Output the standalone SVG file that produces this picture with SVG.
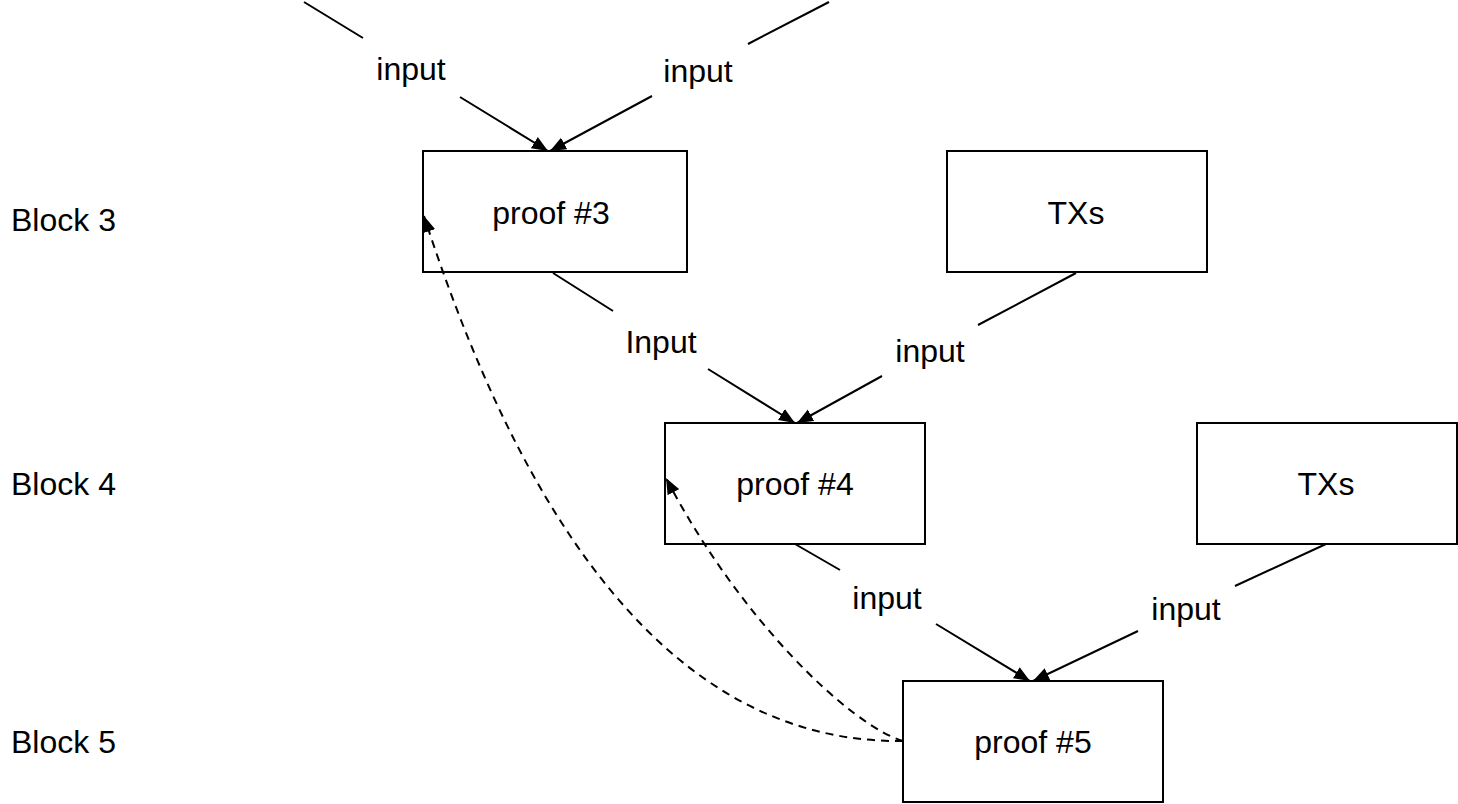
<svg xmlns="http://www.w3.org/2000/svg" width="1458" height="804" viewBox="0 0 1458 804">
<style>
  .box { fill: #ffffff; stroke: #000000; stroke-width: 2; }
  .t { font-family: "Liberation Sans", Arial, sans-serif; font-size: 32px; fill: #000000; }
  .c { text-anchor: middle; }
  .edge { fill: none; stroke: #000000; stroke-width: 2; }
  .dash { stroke-dasharray: 8 6; }
</style>
<defs>
  <marker id="arrow" markerUnits="userSpaceOnUse" markerWidth="17" markerHeight="14" refX="16" refY="7" orient="auto" viewBox="0 0 17 14">
    <path d="M0,0.5 L16,7 L0,13.5 z" fill="#000000" stroke="none"/>
  </marker>
</defs>
<rect width="1458" height="804" fill="#ffffff"/>

<g id="row-labels">
  <text class="t" x="11" y="231">Block 3</text>
  <text class="t" x="11" y="495">Block 4</text>
  <text class="t" x="11" y="753">Block 5</text>
</g>

<g id="proof3">
  <rect class="box" x="423" y="151" width="264" height="121"/>
  <text class="t c" x="551" y="224">proof #3</text>
</g>
<g id="txs3">
  <rect class="box" x="947" y="151" width="260" height="121"/>
  <text class="t c" x="1076" y="224">TXs</text>
</g>
<g id="proof4">
  <rect class="box" x="665" y="423" width="260" height="121"/>
  <text class="t c" x="795" y="495">proof #4</text>
</g>
<g id="txs4">
  <rect class="box" x="1197" y="423" width="260" height="121"/>
  <text class="t c" x="1326" y="495">TXs</text>
</g>
<g id="proof5">
  <rect class="box" x="903" y="681" width="260" height="121"/>
  <text class="t c" x="1033" y="753">proof #5</text>
</g>

<g id="connectors">
  <path class="edge" d="M304,2 L363,38 M460,97 L548,151" marker-end="url(#arrow)"/>
  <path class="edge" d="M829,2 L748,44 M652,96 L550,151" marker-end="url(#arrow)"/>
  <path class="edge" d="M553,273 L613,311 M708,369 L795,423" marker-end="url(#arrow)"/>
  <path class="edge" d="M1076,273 L978,325 M882,376 L797,423" marker-end="url(#arrow)"/>
  <path class="edge" d="M795,544 L840,570 M936,624 L1030,681" marker-end="url(#arrow)"/>
  <path class="edge" d="M1326,544 L1235,586 M1138,631 L1033,681" marker-end="url(#arrow)"/>
  <path class="edge dash" d="M903,741 Q595,745 424,216" marker-end="url(#arrow)"/>
  <path class="edge dash" d="M903,741 C850,725 740,620 666,478" marker-end="url(#arrow)"/>
  <text class="t c" x="411" y="80">input</text>
  <text class="t c" x="698" y="82">input</text>
  <text class="t c" x="661" y="353">Input</text>
  <text class="t c" x="930" y="362">input</text>
  <text class="t c" x="887" y="609">input</text>
  <text class="t c" x="1186" y="620">input</text>
</g>
</svg>
